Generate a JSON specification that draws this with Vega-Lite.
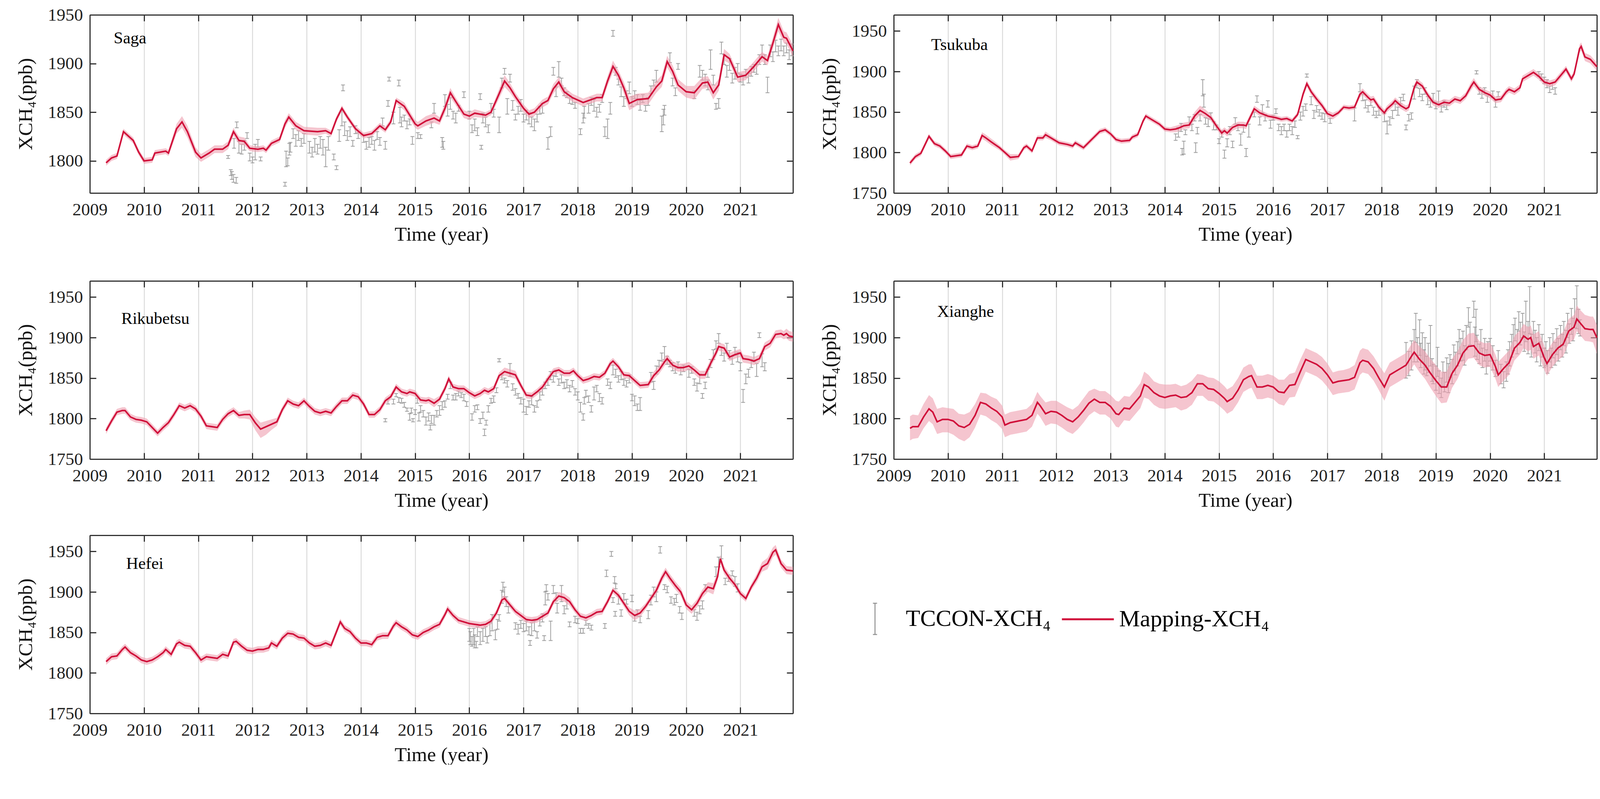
{
"$schema": "https://vega.github.io/schema/vega-lite/v6.json",
"background": "white",
"padding": {"left": 40, "top": 16, "right": 5, "bottom": 0},
"config": {
  "font": "Liberation Serif",
  "view": {"stroke": null},
  "axis": {"labelFont": "Liberation Serif", "labelFontSize": 45, "labelColor": "#222", "titleFont": "Liberation Serif", "titleFontSize": 51, "titleFontWeight": "normal", "titleColor": "#111", "domainColor": "#333", "domainWidth": 3, "tickColor": "#333", "tickWidth": 3, "labelOverlap": false, "labelFlush": false}
},
"datasets": {
"sL": [{"t":2009.3,"v":1798,"a":1795,"b":1801},{"t":2009.4,"v":1803,"a":1800,"b":1806},{"t":2009.5,"v":1805,"a":1802,"b":1808},{"t":2009.62,"v":1830,"a":1827,"b":1833},{"t":2009.8,"v":1821,"a":1818,"b":1824},{"t":2009.9,"v":1809,"a":1806,"b":1812},{"t":2010.0,"v":1800,"a":1797,"b":1803},{"t":2010.15,"v":1801,"a":1798,"b":1804},{"t":2010.2,"v":1808,"a":1805,"b":1811},{"t":2010.4,"v":1810,"a":1807,"b":1813},{"t":2010.45,"v":1808,"a":1805,"b":1811},{"t":2010.6,"v":1833,"a":1828,"b":1838},{"t":2010.7,"v":1840,"a":1834,"b":1846},{"t":2010.8,"v":1830,"a":1824,"b":1836},{"t":2010.95,"v":1809,"a":1804,"b":1814},{"t":2011.05,"v":1803,"a":1799,"b":1807},{"t":2011.2,"v":1808,"a":1804,"b":1812},{"t":2011.3,"v":1812,"a":1808,"b":1816},{"t":2011.45,"v":1812,"a":1808,"b":1816},{"t":2011.55,"v":1816,"a":1812,"b":1820},{"t":2011.65,"v":1830,"a":1826,"b":1834},{"t":2011.75,"v":1821,"a":1817,"b":1825},{"t":2011.85,"v":1820,"a":1816,"b":1824},{"t":2011.95,"v":1813,"a":1810,"b":1816},{"t":2012.1,"v":1812,"a":1809,"b":1815},{"t":2012.2,"v":1813,"a":1810,"b":1816},{"t":2012.25,"v":1811,"a":1808,"b":1814},{"t":2012.35,"v":1818,"a":1815,"b":1821},{"t":2012.5,"v":1822,"a":1819,"b":1825},{"t":2012.6,"v":1838,"a":1834,"b":1842},{"t":2012.67,"v":1845,"a":1841,"b":1849},{"t":2012.8,"v":1836,"a":1832,"b":1840},{"t":2012.95,"v":1831,"a":1827,"b":1835},{"t":2013.2,"v":1830,"a":1826,"b":1834},{"t":2013.35,"v":1831,"a":1828,"b":1834},{"t":2013.45,"v":1828,"a":1825,"b":1831},{"t":2013.55,"v":1843,"a":1840,"b":1846},{"t":2013.65,"v":1854,"a":1851,"b":1857},{"t":2013.75,"v":1845,"a":1842,"b":1848},{"t":2013.9,"v":1833,"a":1830,"b":1836},{"t":2014.05,"v":1826,"a":1823,"b":1829},{"t":2014.2,"v":1828,"a":1825,"b":1831},{"t":2014.35,"v":1836,"a":1833,"b":1839},{"t":2014.45,"v":1832,"a":1829,"b":1835},{"t":2014.55,"v":1840,"a":1837,"b":1843},{"t":2014.65,"v":1862,"a":1859,"b":1865},{"t":2014.8,"v":1856,"a":1852,"b":1860},{"t":2015.0,"v":1838,"a":1834,"b":1842},{"t":2015.05,"v":1836,"a":1832,"b":1840},{"t":2015.2,"v":1841,"a":1836,"b":1846},{"t":2015.35,"v":1844,"a":1839,"b":1849},{"t":2015.45,"v":1841,"a":1837,"b":1845},{"t":2015.55,"v":1854,"a":1849,"b":1859},{"t":2015.65,"v":1870,"a":1865,"b":1875},{"t":2015.75,"v":1861,"a":1857,"b":1865},{"t":2015.9,"v":1848,"a":1844,"b":1852},{"t":2016.0,"v":1846,"a":1842,"b":1850},{"t":2016.1,"v":1849,"a":1845,"b":1853},{"t":2016.3,"v":1847,"a":1844,"b":1850},{"t":2016.4,"v":1850,"a":1847,"b":1853},{"t":2016.55,"v":1869,"a":1864,"b":1874},{"t":2016.65,"v":1882,"a":1876,"b":1888},{"t":2016.75,"v":1875,"a":1870,"b":1880},{"t":2016.85,"v":1866,"a":1862,"b":1870},{"t":2017.0,"v":1854,"a":1850,"b":1858},{"t":2017.1,"v":1848,"a":1844,"b":1852},{"t":2017.2,"v":1850,"a":1846,"b":1854},{"t":2017.35,"v":1859,"a":1855,"b":1863},{"t":2017.45,"v":1862,"a":1858,"b":1866},{"t":2017.55,"v":1874,"a":1869,"b":1879},{"t":2017.65,"v":1881,"a":1876,"b":1886},{"t":2017.75,"v":1871,"a":1866,"b":1876},{"t":2017.9,"v":1865,"a":1861,"b":1869},{"t":2018.1,"v":1860,"a":1856,"b":1864},{"t":2018.25,"v":1863,"a":1859,"b":1867},{"t":2018.35,"v":1865,"a":1861,"b":1869},{"t":2018.45,"v":1865,"a":1861,"b":1869},{"t":2018.55,"v":1882,"a":1877,"b":1887},{"t":2018.65,"v":1897,"a":1891,"b":1903},{"t":2018.75,"v":1888,"a":1883,"b":1893},{"t":2018.85,"v":1875,"a":1869,"b":1881},{"t":2018.95,"v":1859,"a":1852,"b":1866},{"t":2019.1,"v":1863,"a":1857,"b":1869},{"t":2019.3,"v":1864,"a":1858,"b":1870},{"t":2019.45,"v":1876,"a":1870,"b":1882},{"t":2019.55,"v":1882,"a":1876,"b":1888},{"t":2019.65,"v":1902,"a":1896,"b":1908},{"t":2019.75,"v":1892,"a":1886,"b":1898},{"t":2019.85,"v":1878,"a":1872,"b":1884},{"t":2020.0,"v":1871,"a":1865,"b":1877},{"t":2020.15,"v":1870,"a":1863,"b":1877},{"t":2020.3,"v":1880,"a":1874,"b":1886},{"t":2020.4,"v":1881,"a":1875,"b":1887},{"t":2020.5,"v":1870,"a":1863,"b":1877},{"t":2020.6,"v":1878,"a":1872,"b":1884},{"t":2020.7,"v":1909,"a":1903,"b":1915},{"t":2020.8,"v":1905,"a":1900,"b":1910},{"t":2020.95,"v":1886,"a":1881,"b":1891},{"t":2021.1,"v":1888,"a":1883,"b":1893},{"t":2021.25,"v":1897,"a":1892,"b":1902},{"t":2021.4,"v":1907,"a":1902,"b":1912},{"t":2021.5,"v":1903,"a":1898,"b":1908},{"t":2021.6,"v":1921,"a":1915,"b":1927},{"t":2021.7,"v":1940,"a":1933,"b":1947},{"t":2021.8,"v":1927,"a":1921,"b":1933},{"t":2021.85,"v":1926,"a":1920,"b":1932},{"t":2021.97,"v":1913,"a":1907,"b":1919}],
"sT": [{"t":2011.55,"a":1802.5,"b":1805.5},{"t":2011.6,"a":1785,"b":1791},{"t":2011.62,"a":1781,"b":1789},{"t":2011.65,"a":1778,"b":1786},{"t":2011.7,"a":1777,"b":1783},{"t":2011.66,"a":1813,"b":1823},{"t":2011.71,"a":1834,"b":1840},{"t":2011.75,"a":1808,"b":1820},{"t":2011.8,"a":1807,"b":1817},{"t":2011.85,"a":1811,"b":1821},{"t":2011.9,"a":1823,"b":1829},{"t":2011.95,"a":1800,"b":1808},{"t":2012.0,"a":1798,"b":1804},{"t":2012.05,"a":1801,"b":1817},{"t":2012.1,"a":1814,"b":1822},{"t":2012.15,"a":1800,"b":1804},{"t":2012.6,"a":1774,"b":1778},{"t":2012.62,"a":1794,"b":1810},{"t":2012.65,"a":1795,"b":1803},{"t":2012.68,"a":1806,"b":1818},{"t":2012.7,"a":1809,"b":1819},{"t":2012.75,"a":1823,"b":1833},{"t":2012.8,"a":1815,"b":1827},{"t":2012.85,"a":1821,"b":1831},{"t":2012.9,"a":1815,"b":1823},{"t":2012.95,"a":1818,"b":1828},{"t":2013.05,"a":1808,"b":1820},{"t":2013.1,"a":1804,"b":1814},{"t":2013.15,"a":1809,"b":1823},{"t":2013.2,"a":1807,"b":1817},{"t":2013.25,"a":1813,"b":1825},{"t":2013.3,"a":1806,"b":1822},{"t":2013.35,"a":1794,"b":1814},{"t":2013.4,"a":1811,"b":1825},{"t":2013.5,"a":1801,"b":1807},{"t":2013.55,"a":1791,"b":1795},{"t":2013.6,"a":1820,"b":1832},{"t":2013.65,"a":1836,"b":1852},{"t":2013.67,"a":1872,"b":1878},{"t":2013.7,"a":1826,"b":1840},{"t":2013.75,"a":1821,"b":1831},{"t":2013.8,"a":1825,"b":1835},{"t":2013.85,"a":1815,"b":1821},{"t":2013.9,"a":1828,"b":1836},{"t":2013.95,"a":1823,"b":1829},{"t":2014.05,"a":1819,"b":1827},{"t":2014.1,"a":1812,"b":1820},{"t":2014.15,"a":1814,"b":1824},{"t":2014.2,"a":1817,"b":1825},{"t":2014.25,"a":1811,"b":1821},{"t":2014.3,"a":1822,"b":1830},{"t":2014.35,"a":1816,"b":1824},{"t":2014.4,"a":1836,"b":1844},{"t":2014.45,"a":1812,"b":1820},{"t":2014.5,"a":1856,"b":1862},{"t":2014.52,"a":1882,"b":1886},{"t":2014.6,"a":1838,"b":1850},{"t":2014.7,"a":1877,"b":1883},{"t":2014.72,"a":1839,"b":1855},{"t":2014.75,"a":1835,"b":1845},{"t":2014.8,"a":1841,"b":1847},{"t":2014.85,"a":1833,"b":1841},{"t":2014.9,"a":1837,"b":1843},{"t":2014.95,"a":1817,"b":1825},{"t":2015.05,"a":1823,"b":1829},{"t":2015.1,"a":1823,"b":1827},{"t":2015.3,"a":1834,"b":1840},{"t":2015.35,"a":1849,"b":1859},{"t":2015.5,"a":1814,"b":1824},{"t":2015.52,"a":1812,"b":1820},{"t":2015.55,"a":1856,"b":1868},{"t":2015.6,"a":1846,"b":1858},{"t":2015.65,"a":1853,"b":1865},{"t":2015.7,"a":1843,"b":1851},{"t":2015.75,"a":1839,"b":1849},{"t":2015.8,"a":1851,"b":1857},{"t":2015.9,"a":1865,"b":1871},{"t":2016.0,"a":1843,"b":1851},{"t":2016.05,"a":1829,"b":1837},{"t":2016.1,"a":1831,"b":1843},{"t":2016.15,"a":1826,"b":1834},{"t":2016.2,"a":1863,"b":1869},{"t":2016.22,"a":1812,"b":1816},{"t":2016.25,"a":1839,"b":1849},{"t":2016.3,"a":1835,"b":1845},{"t":2016.35,"a":1829,"b":1837},{"t":2016.4,"a":1849,"b":1859},{"t":2016.45,"a":1845,"b":1853},{"t":2016.55,"a":1829,"b":1845},{"t":2016.6,"a":1875,"b":1885},{"t":2016.65,"a":1889,"b":1895},{"t":2016.7,"a":1848,"b":1864},{"t":2016.75,"a":1881,"b":1889},{"t":2016.8,"a":1852,"b":1862},{"t":2016.85,"a":1842,"b":1848},{"t":2016.9,"a":1848,"b":1856},{"t":2016.95,"a":1851,"b":1863},{"t":2017.0,"a":1840,"b":1848},{"t":2017.05,"a":1842,"b":1852},{"t":2017.1,"a":1838,"b":1850},{"t":2017.15,"a":1835,"b":1845},{"t":2017.2,"a":1831,"b":1843},{"t":2017.25,"a":1840,"b":1848},{"t":2017.3,"a":1848,"b":1856},{"t":2017.35,"a":1849,"b":1859},{"t":2017.45,"a":1812,"b":1824},{"t":2017.5,"a":1825,"b":1835},{"t":2017.55,"a":1888,"b":1896},{"t":2017.6,"a":1866,"b":1876},{"t":2017.65,"a":1886,"b":1902},{"t":2017.7,"a":1877,"b":1885},{"t":2017.75,"a":1867,"b":1875},{"t":2017.8,"a":1865,"b":1871},{"t":2017.85,"a":1859,"b":1867},{"t":2017.9,"a":1858,"b":1864},{"t":2017.95,"a":1854,"b":1860},{"t":2018.05,"a":1827,"b":1833},{"t":2018.1,"a":1839,"b":1849},{"t":2018.12,"a":1844,"b":1856},{"t":2018.2,"a":1849,"b":1859},{"t":2018.25,"a":1857,"b":1865},{"t":2018.3,"a":1851,"b":1863},{"t":2018.35,"a":1845,"b":1855},{"t":2018.4,"a":1850,"b":1858},{"t":2018.45,"a":1860,"b":1868},{"t":2018.5,"a":1825,"b":1835},{"t":2018.55,"a":1823,"b":1843},{"t":2018.6,"a":1848,"b":1860},{"t":2018.65,"a":1928,"b":1934},{"t":2018.7,"a":1888,"b":1896},{"t":2018.75,"a":1878,"b":1884},{"t":2018.8,"a":1866,"b":1876},{"t":2018.85,"a":1856,"b":1866},{"t":2018.9,"a":1864,"b":1872},{"t":2018.95,"a":1869,"b":1881},{"t":2019.0,"a":1856,"b":1866},{"t":2019.05,"a":1864,"b":1872},{"t":2019.1,"a":1858,"b":1868},{"t":2019.15,"a":1852,"b":1862},{"t":2019.2,"a":1860,"b":1868},{"t":2019.25,"a":1851,"b":1857},{"t":2019.3,"a":1857,"b":1865},{"t":2019.35,"a":1869,"b":1877},{"t":2019.4,"a":1877,"b":1883},{"t":2019.45,"a":1881,"b":1893},{"t":2019.55,"a":1830,"b":1846},{"t":2019.58,"a":1837,"b":1853},{"t":2019.6,"a":1847,"b":1857},{"t":2019.7,"a":1901,"b":1911},{"t":2019.75,"a":1877,"b":1885},{"t":2019.8,"a":1867,"b":1875},{"t":2019.85,"a":1894,"b":1900},{"t":2020.15,"a":1864,"b":1872},{"t":2020.25,"a":1886,"b":1898},{"t":2020.3,"a":1883,"b":1893},{"t":2020.35,"a":1877,"b":1889},{"t":2020.4,"a":1873,"b":1883},{"t":2020.45,"a":1894,"b":1914},{"t":2020.5,"a":1878,"b":1888},{"t":2020.55,"a":1853,"b":1859},{"t":2020.6,"a":1854,"b":1864},{"t":2020.65,"a":1910,"b":1922},{"t":2020.7,"a":1899,"b":1909},{"t":2020.75,"a":1886,"b":1898},{"t":2020.8,"a":1893,"b":1905},{"t":2020.85,"a":1880,"b":1890},{"t":2020.9,"a":1884,"b":1896},{"t":2020.95,"a":1890,"b":1900},{"t":2021.0,"a":1881,"b":1889},{"t":2021.05,"a":1878,"b":1888},{"t":2021.1,"a":1886,"b":1894},{"t":2021.15,"a":1880,"b":1890},{"t":2021.2,"a":1887,"b":1897},{"t":2021.25,"a":1891,"b":1899},{"t":2021.3,"a":1889,"b":1899},{"t":2021.35,"a":1899,"b":1909},{"t":2021.4,"a":1907,"b":1919},{"t":2021.45,"a":1899,"b":1909},{"t":2021.5,"a":1870,"b":1886},{"t":2021.55,"a":1907,"b":1919},{"t":2021.6,"a":1902,"b":1912},{"t":2021.65,"a":1912,"b":1924},{"t":2021.7,"a":1908,"b":1918},{"t":2021.75,"a":1913,"b":1925},{"t":2021.8,"a":1908,"b":1918},{"t":2021.85,"a":1911,"b":1921},{"t":2021.9,"a":1904,"b":1914},{"t":2021.95,"a":1908,"b":1920}],
"tL": [{"t":2009.3,"v":1787,"a":1784,"b":1790},{"t":2009.4,"v":1795,"a":1792,"b":1798},{"t":2009.5,"v":1799,"a":1796,"b":1802},{"t":2009.6,"v":1813,"a":1810,"b":1816},{"t":2009.65,"v":1820,"a":1817,"b":1823},{"t":2009.75,"v":1811,"a":1808,"b":1814},{"t":2009.85,"v":1808,"a":1805,"b":1811},{"t":2009.95,"v":1802,"a":1799,"b":1805},{"t":2010.05,"v":1795,"a":1792,"b":1798},{"t":2010.15,"v":1796,"a":1793,"b":1799},{"t":2010.25,"v":1797,"a":1794,"b":1800},{"t":2010.35,"v":1808,"a":1805,"b":1811},{"t":2010.45,"v":1806,"a":1803,"b":1809},{"t":2010.55,"v":1808,"a":1805,"b":1811},{"t":2010.63,"v":1821,"a":1817,"b":1825},{"t":2010.7,"v":1818,"a":1814,"b":1822},{"t":2010.8,"v":1813,"a":1809,"b":1817},{"t":2010.95,"v":1806,"a":1803,"b":1809},{"t":2011.05,"v":1800,"a":1797,"b":1803},{"t":2011.15,"v":1794,"a":1790,"b":1798},{"t":2011.3,"v":1795,"a":1792,"b":1798},{"t":2011.4,"v":1806,"a":1803,"b":1809},{"t":2011.45,"v":1808,"a":1805,"b":1811},{"t":2011.55,"v":1802,"a":1799,"b":1805},{"t":2011.65,"v":1818,"a":1815,"b":1821},{"t":2011.75,"v":1818,"a":1815,"b":1821},{"t":2011.8,"v":1822,"a":1818,"b":1826},{"t":2011.9,"v":1818,"a":1815,"b":1821},{"t":2012.05,"v":1812,"a":1809,"b":1815},{"t":2012.2,"v":1810,"a":1807,"b":1813},{"t":2012.3,"v":1808,"a":1805,"b":1811},{"t":2012.35,"v":1812,"a":1809,"b":1815},{"t":2012.45,"v":1808,"a":1805,"b":1811},{"t":2012.5,"v":1806,"a":1803,"b":1809},{"t":2012.65,"v":1816,"a":1813,"b":1819},{"t":2012.8,"v":1826,"a":1823,"b":1829},{"t":2012.9,"v":1828,"a":1825,"b":1831},{"t":2013.0,"v":1823,"a":1820,"b":1826},{"t":2013.1,"v":1816,"a":1813,"b":1819},{"t":2013.2,"v":1814,"a":1811,"b":1817},{"t":2013.35,"v":1815,"a":1812,"b":1818},{"t":2013.4,"v":1819,"a":1816,"b":1822},{"t":2013.5,"v":1822,"a":1819,"b":1825},{"t":2013.6,"v":1839,"a":1836,"b":1842},{"t":2013.65,"v":1845,"a":1842,"b":1848},{"t":2013.75,"v":1841,"a":1838,"b":1844},{"t":2013.9,"v":1835,"a":1832,"b":1838},{"t":2014.0,"v":1829,"a":1826,"b":1832},{"t":2014.1,"v":1828,"a":1825,"b":1831},{"t":2014.2,"v":1829,"a":1825,"b":1833},{"t":2014.25,"v":1830,"a":1826,"b":1834},{"t":2014.35,"v":1833,"a":1829,"b":1837},{"t":2014.45,"v":1834,"a":1830,"b":1838},{"t":2014.55,"v":1845,"a":1840,"b":1850},{"t":2014.65,"v":1852,"a":1846,"b":1858},{"t":2014.75,"v":1848,"a":1843,"b":1853},{"t":2014.85,"v":1843,"a":1839,"b":1847},{"t":2014.95,"v":1833,"a":1829,"b":1837},{"t":2015.05,"v":1824,"a":1820,"b":1828},{"t":2015.1,"v":1827,"a":1823,"b":1831},{"t":2015.15,"v":1824,"a":1820,"b":1828},{"t":2015.25,"v":1831,"a":1827,"b":1835},{"t":2015.35,"v":1834,"a":1830,"b":1838},{"t":2015.45,"v":1834,"a":1830,"b":1838},{"t":2015.5,"v":1833,"a":1829,"b":1837},{"t":2015.6,"v":1847,"a":1843,"b":1851},{"t":2015.65,"v":1854,"a":1850,"b":1858},{"t":2015.75,"v":1849,"a":1845,"b":1853},{"t":2015.9,"v":1845,"a":1842,"b":1848},{"t":2016.05,"v":1843,"a":1840,"b":1846},{"t":2016.15,"v":1841,"a":1838,"b":1844},{"t":2016.25,"v":1842,"a":1839,"b":1845},{"t":2016.35,"v":1839,"a":1836,"b":1842},{"t":2016.45,"v":1847,"a":1844,"b":1850},{"t":2016.55,"v":1872,"a":1868,"b":1876},{"t":2016.62,"v":1885,"a":1881,"b":1889},{"t":2016.7,"v":1875,"a":1871,"b":1879},{"t":2016.8,"v":1866,"a":1862,"b":1870},{"t":2016.9,"v":1858,"a":1854,"b":1862},{"t":2017.0,"v":1848,"a":1844,"b":1852},{"t":2017.1,"v":1845,"a":1841,"b":1849},{"t":2017.2,"v":1849,"a":1846,"b":1852},{"t":2017.3,"v":1856,"a":1853,"b":1859},{"t":2017.4,"v":1855,"a":1852,"b":1858},{"t":2017.5,"v":1856,"a":1853,"b":1859},{"t":2017.6,"v":1872,"a":1868,"b":1876},{"t":2017.65,"v":1875,"a":1871,"b":1879},{"t":2017.75,"v":1868,"a":1864,"b":1872},{"t":2017.8,"v":1865,"a":1861,"b":1869},{"t":2017.85,"v":1866,"a":1862,"b":1870},{"t":2017.95,"v":1856,"a":1852,"b":1860},{"t":2018.05,"v":1849,"a":1845,"b":1853},{"t":2018.1,"v":1854,"a":1850,"b":1858},{"t":2018.2,"v":1860,"a":1856,"b":1864},{"t":2018.25,"v":1864,"a":1860,"b":1868},{"t":2018.35,"v":1858,"a":1854,"b":1862},{"t":2018.45,"v":1854,"a":1850,"b":1858},{"t":2018.5,"v":1856,"a":1852,"b":1860},{"t":2018.6,"v":1880,"a":1876,"b":1884},{"t":2018.65,"v":1887,"a":1883,"b":1891},{"t":2018.75,"v":1882,"a":1878,"b":1886},{"t":2018.85,"v":1871,"a":1867,"b":1875},{"t":2018.95,"v":1862,"a":1858,"b":1866},{"t":2019.05,"v":1859,"a":1855,"b":1863},{"t":2019.15,"v":1862,"a":1858,"b":1866},{"t":2019.25,"v":1861,"a":1857,"b":1865},{"t":2019.35,"v":1866,"a":1862,"b":1870},{"t":2019.45,"v":1864,"a":1860,"b":1868},{"t":2019.55,"v":1870,"a":1866,"b":1874},{"t":2019.65,"v":1882,"a":1877,"b":1887},{"t":2019.7,"v":1887,"a":1882,"b":1892},{"t":2019.8,"v":1878,"a":1874,"b":1882},{"t":2019.9,"v":1874,"a":1870,"b":1878},{"t":2020.0,"v":1871,"a":1867,"b":1875},{"t":2020.1,"v":1865,"a":1861,"b":1869},{"t":2020.2,"v":1866,"a":1862,"b":1870},{"t":2020.3,"v":1875,"a":1871,"b":1879},{"t":2020.35,"v":1878,"a":1874,"b":1882},{"t":2020.45,"v":1875,"a":1871,"b":1879},{"t":2020.55,"v":1880,"a":1876,"b":1884},{"t":2020.6,"v":1891,"a":1887,"b":1895},{"t":2020.7,"v":1895,"a":1891,"b":1899},{"t":2020.8,"v":1899,"a":1895,"b":1903},{"t":2020.9,"v":1894,"a":1890,"b":1898},{"t":2021.0,"v":1887,"a":1883,"b":1891},{"t":2021.1,"v":1885,"a":1881,"b":1889},{"t":2021.2,"v":1887,"a":1883,"b":1891},{"t":2021.3,"v":1895,"a":1891,"b":1899},{"t":2021.4,"v":1903,"a":1899,"b":1907},{"t":2021.5,"v":1891,"a":1887,"b":1895},{"t":2021.55,"v":1897,"a":1893,"b":1901},{"t":2021.65,"v":1928,"a":1923,"b":1933},{"t":2021.68,"v":1931,"a":1926,"b":1936},{"t":2021.75,"v":1918,"a":1913,"b":1923},{"t":2021.85,"v":1915,"a":1910,"b":1920},{"t":2021.97,"v":1906,"a":1901,"b":1911}],
"tT": [{"t":2014.2,"a":1815,"b":1823},{"t":2014.25,"a":1819,"b":1831},{"t":2014.3,"a":1826,"b":1836},{"t":2014.32,"a":1797,"b":1805},{"t":2014.35,"a":1798,"b":1814},{"t":2014.38,"a":1822,"b":1828},{"t":2014.45,"a":1834,"b":1844},{"t":2014.5,"a":1827,"b":1835},{"t":2014.55,"a":1839,"b":1847},{"t":2014.57,"a":1800,"b":1812},{"t":2014.6,"a":1823,"b":1831},{"t":2014.65,"a":1839,"b":1847},{"t":2014.7,"a":1870,"b":1890},{"t":2014.72,"a":1856,"b":1872},{"t":2014.75,"a":1835,"b":1843},{"t":2014.8,"a":1832,"b":1842},{"t":2014.85,"a":1841,"b":1849},{"t":2014.9,"a":1828,"b":1838},{"t":2014.95,"a":1828,"b":1834},{"t":2015.0,"a":1811,"b":1817},{"t":2015.05,"a":1819,"b":1827},{"t":2015.1,"a":1793,"b":1803},{"t":2015.15,"a":1807,"b":1817},{"t":2015.2,"a":1822,"b":1832},{"t":2015.25,"a":1806,"b":1814},{"t":2015.3,"a":1835,"b":1843},{"t":2015.35,"a":1827,"b":1835},{"t":2015.4,"a":1809,"b":1823},{"t":2015.45,"a":1825,"b":1833},{"t":2015.5,"a":1795,"b":1805},{"t":2015.55,"a":1819,"b":1835},{"t":2015.65,"a":1844,"b":1850},{"t":2015.7,"a":1862,"b":1870},{"t":2015.75,"a":1834,"b":1844},{"t":2015.8,"a":1849,"b":1859},{"t":2015.85,"a":1839,"b":1847},{"t":2015.9,"a":1856,"b":1864},{"t":2015.95,"a":1830,"b":1840},{"t":2016.0,"a":1840,"b":1846},{"t":2016.05,"a":1848,"b":1854},{"t":2016.1,"a":1827,"b":1835},{"t":2016.15,"a":1822,"b":1832},{"t":2016.2,"a":1827,"b":1835},{"t":2016.25,"a":1819,"b":1827},{"t":2016.3,"a":1827,"b":1835},{"t":2016.35,"a":1822,"b":1832},{"t":2016.4,"a":1831,"b":1839},{"t":2016.45,"a":1817,"b":1821},{"t":2016.5,"a":1840,"b":1850},{"t":2016.55,"a":1845,"b":1857},{"t":2016.6,"a":1852,"b":1860},{"t":2016.62,"a":1893,"b":1897},{"t":2016.7,"a":1859,"b":1869},{"t":2016.75,"a":1842,"b":1852},{"t":2016.8,"a":1850,"b":1858},{"t":2016.85,"a":1845,"b":1853},{"t":2016.9,"a":1841,"b":1849},{"t":2016.95,"a":1838,"b":1848},{"t":2017.05,"a":1836,"b":1842},{"t":2017.5,"a":1839,"b":1855},{"t":2017.6,"a":1875,"b":1885},{"t":2017.65,"a":1864,"b":1872},{"t":2017.7,"a":1855,"b":1865},{"t":2017.75,"a":1850,"b":1858},{"t":2017.8,"a":1858,"b":1866},{"t":2017.85,"a":1846,"b":1856},{"t":2017.9,"a":1843,"b":1851},{"t":2017.95,"a":1846,"b":1856},{"t":2018.05,"a":1838,"b":1848},{"t":2018.1,"a":1823,"b":1839},{"t":2018.15,"a":1834,"b":1844},{"t":2018.2,"a":1842,"b":1852},{"t":2018.25,"a":1852,"b":1860},{"t":2018.3,"a":1846,"b":1856},{"t":2018.35,"a":1860,"b":1868},{"t":2018.4,"a":1864,"b":1872},{"t":2018.45,"a":1828,"b":1834},{"t":2018.5,"a":1839,"b":1847},{"t":2018.55,"a":1841,"b":1849},{"t":2018.6,"a":1866,"b":1882},{"t":2018.65,"a":1880,"b":1890},{"t":2018.7,"a":1869,"b":1879},{"t":2018.75,"a":1864,"b":1872},{"t":2018.8,"a":1872,"b":1880},{"t":2018.85,"a":1859,"b":1869},{"t":2018.9,"a":1856,"b":1864},{"t":2018.95,"a":1863,"b":1873},{"t":2019.0,"a":1854,"b":1862},{"t":2019.05,"a":1860,"b":1876},{"t":2019.1,"a":1850,"b":1858},{"t":2019.15,"a":1856,"b":1864},{"t":2019.2,"a":1853,"b":1859},{"t":2019.75,"a":1897,"b":1901},{"t":2019.8,"a":1872,"b":1880},{"t":2019.85,"a":1867,"b":1877},{"t":2019.9,"a":1872,"b":1880},{"t":2019.95,"a":1862,"b":1870},{"t":2020.05,"a":1868,"b":1876},{"t":2020.1,"a":1856,"b":1864},{"t":2020.15,"a":1869,"b":1875},{"t":2020.9,"a":1894,"b":1900},{"t":2020.95,"a":1889,"b":1897},{"t":2021.0,"a":1885,"b":1893},{"t":2021.05,"a":1880,"b":1890},{"t":2021.1,"a":1874,"b":1882},{"t":2021.15,"a":1878,"b":1886},{"t":2021.2,"a":1872,"b":1880}],
"rL": [{"t":2009.3,"v":1785,"a":1781,"b":1789},{"t":2009.4,"v":1797,"a":1793,"b":1801},{"t":2009.5,"v":1808,"a":1804,"b":1812},{"t":2009.6,"v":1810,"a":1806,"b":1814},{"t":2009.65,"v":1810,"a":1806,"b":1814},{"t":2009.75,"v":1802,"a":1798,"b":1806},{"t":2009.85,"v":1799,"a":1795,"b":1803},{"t":2009.95,"v":1798,"a":1794,"b":1802},{"t":2010.05,"v":1796,"a":1792,"b":1800},{"t":2010.15,"v":1789,"a":1785,"b":1793},{"t":2010.25,"v":1782,"a":1778,"b":1786},{"t":2010.35,"v":1789,"a":1785,"b":1793},{"t":2010.45,"v":1795,"a":1791,"b":1799},{"t":2010.55,"v":1805,"a":1801,"b":1809},{"t":2010.65,"v":1816,"a":1812,"b":1820},{"t":2010.75,"v":1813,"a":1809,"b":1817},{"t":2010.85,"v":1816,"a":1812,"b":1820},{"t":2010.95,"v":1812,"a":1808,"b":1816},{"t":2011.05,"v":1803,"a":1799,"b":1807},{"t":2011.15,"v":1791,"a":1787,"b":1795},{"t":2011.25,"v":1790,"a":1786,"b":1794},{"t":2011.35,"v":1789,"a":1785,"b":1793},{"t":2011.45,"v":1799,"a":1795,"b":1803},{"t":2011.55,"v":1806,"a":1802,"b":1810},{"t":2011.65,"v":1810,"a":1806,"b":1814},{"t":2011.75,"v":1804,"a":1800,"b":1808},{"t":2011.85,"v":1805,"a":1800,"b":1810},{"t":2011.95,"v":1805,"a":1799,"b":1811},{"t":2012.05,"v":1795,"a":1786,"b":1802},{"t":2012.15,"v":1787,"a":1776,"b":1795},{"t":2012.25,"v":1790,"a":1780,"b":1797},{"t":2012.35,"v":1793,"a":1786,"b":1799},{"t":2012.45,"v":1796,"a":1791,"b":1801},{"t":2012.55,"v":1811,"a":1807,"b":1815},{"t":2012.65,"v":1822,"a":1818,"b":1826},{"t":2012.75,"v":1818,"a":1814,"b":1822},{"t":2012.85,"v":1816,"a":1812,"b":1820},{"t":2012.95,"v":1822,"a":1818,"b":1826},{"t":2013.05,"v":1815,"a":1811,"b":1819},{"t":2013.15,"v":1809,"a":1805,"b":1813},{"t":2013.25,"v":1807,"a":1803,"b":1811},{"t":2013.35,"v":1809,"a":1805,"b":1813},{"t":2013.45,"v":1807,"a":1803,"b":1811},{"t":2013.55,"v":1815,"a":1811,"b":1819},{"t":2013.65,"v":1822,"a":1818,"b":1826},{"t":2013.75,"v":1822,"a":1818,"b":1826},{"t":2013.85,"v":1829,"a":1825,"b":1833},{"t":2013.95,"v":1827,"a":1823,"b":1831},{"t":2014.05,"v":1818,"a":1814,"b":1822},{"t":2014.15,"v":1805,"a":1801,"b":1809},{"t":2014.25,"v":1805,"a":1801,"b":1809},{"t":2014.35,"v":1811,"a":1807,"b":1815},{"t":2014.45,"v":1822,"a":1818,"b":1826},{"t":2014.55,"v":1827,"a":1823,"b":1831},{"t":2014.6,"v":1833,"a":1829,"b":1837},{"t":2014.65,"v":1839,"a":1835,"b":1843},{"t":2014.75,"v":1833,"a":1829,"b":1837},{"t":2014.85,"v":1831,"a":1827,"b":1835},{"t":2014.9,"v":1833,"a":1829,"b":1837},{"t":2015.0,"v":1831,"a":1827,"b":1835},{"t":2015.1,"v":1823,"a":1819,"b":1827},{"t":2015.2,"v":1822,"a":1818,"b":1826},{"t":2015.25,"v":1823,"a":1819,"b":1827},{"t":2015.35,"v":1819,"a":1814,"b":1824},{"t":2015.45,"v":1824,"a":1820,"b":1828},{"t":2015.55,"v":1837,"a":1833,"b":1841},{"t":2015.62,"v":1849,"a":1845,"b":1853},{"t":2015.7,"v":1839,"a":1835,"b":1843},{"t":2015.8,"v":1837,"a":1833,"b":1841},{"t":2015.9,"v":1837,"a":1833,"b":1841},{"t":2016.0,"v":1832,"a":1828,"b":1836},{"t":2016.1,"v":1828,"a":1824,"b":1832},{"t":2016.2,"v":1831,"a":1827,"b":1835},{"t":2016.28,"v":1835,"a":1831,"b":1839},{"t":2016.35,"v":1833,"a":1829,"b":1837},{"t":2016.45,"v":1837,"a":1833,"b":1841},{"t":2016.55,"v":1853,"a":1849,"b":1857},{"t":2016.65,"v":1858,"a":1853,"b":1863},{"t":2016.75,"v":1856,"a":1851,"b":1861},{"t":2016.85,"v":1854,"a":1849,"b":1859},{"t":2016.95,"v":1841,"a":1837,"b":1845},{"t":2017.05,"v":1829,"a":1825,"b":1833},{"t":2017.15,"v":1828,"a":1824,"b":1832},{"t":2017.25,"v":1833,"a":1829,"b":1837},{"t":2017.35,"v":1839,"a":1835,"b":1843},{"t":2017.45,"v":1849,"a":1845,"b":1853},{"t":2017.55,"v":1858,"a":1854,"b":1862},{"t":2017.65,"v":1860,"a":1856,"b":1864},{"t":2017.75,"v":1856,"a":1852,"b":1860},{"t":2017.85,"v":1856,"a":1852,"b":1860},{"t":2017.92,"v":1859,"a":1855,"b":1863},{"t":2018.0,"v":1853,"a":1849,"b":1857},{"t":2018.1,"v":1847,"a":1843,"b":1851},{"t":2018.2,"v":1849,"a":1845,"b":1853},{"t":2018.3,"v":1852,"a":1848,"b":1856},{"t":2018.4,"v":1851,"a":1847,"b":1855},{"t":2018.5,"v":1856,"a":1852,"b":1860},{"t":2018.6,"v":1868,"a":1864,"b":1872},{"t":2018.65,"v":1871,"a":1867,"b":1875},{"t":2018.75,"v":1864,"a":1860,"b":1868},{"t":2018.85,"v":1854,"a":1850,"b":1858},{"t":2018.95,"v":1853,"a":1849,"b":1857},{"t":2019.05,"v":1847,"a":1843,"b":1851},{"t":2019.15,"v":1841,"a":1837,"b":1845},{"t":2019.3,"v":1842,"a":1838,"b":1846},{"t":2019.4,"v":1853,"a":1848,"b":1858},{"t":2019.5,"v":1860,"a":1855,"b":1865},{"t":2019.6,"v":1870,"a":1865,"b":1875},{"t":2019.65,"v":1874,"a":1869,"b":1879},{"t":2019.75,"v":1866,"a":1861,"b":1871},{"t":2019.85,"v":1863,"a":1858,"b":1868},{"t":2019.95,"v":1863,"a":1858,"b":1868},{"t":2020.05,"v":1865,"a":1860,"b":1870},{"t":2020.15,"v":1860,"a":1855,"b":1865},{"t":2020.25,"v":1854,"a":1849,"b":1859},{"t":2020.35,"v":1854,"a":1849,"b":1859},{"t":2020.45,"v":1868,"a":1863,"b":1873},{"t":2020.55,"v":1881,"a":1876,"b":1886},{"t":2020.6,"v":1889,"a":1884,"b":1894},{"t":2020.7,"v":1887,"a":1882,"b":1892},{"t":2020.8,"v":1876,"a":1871,"b":1881},{"t":2020.9,"v":1879,"a":1874,"b":1884},{"t":2021.0,"v":1881,"a":1876,"b":1886},{"t":2021.05,"v":1874,"a":1869,"b":1879},{"t":2021.15,"v":1873,"a":1868,"b":1878},{"t":2021.25,"v":1871,"a":1866,"b":1876},{"t":2021.35,"v":1874,"a":1869,"b":1879},{"t":2021.45,"v":1889,"a":1884,"b":1894},{"t":2021.55,"v":1893,"a":1888,"b":1898},{"t":2021.65,"v":1904,"a":1899,"b":1909},{"t":2021.75,"v":1905,"a":1900,"b":1910},{"t":2021.8,"v":1903,"a":1898,"b":1908},{"t":2021.85,"v":1905,"a":1899,"b":1911},{"t":2021.9,"v":1902,"a":1896,"b":1908},{"t":2021.97,"v":1901,"a":1895,"b":1907}],
"rT": [{"t":2014.45,"a":1796,"b":1800},{"t":2014.5,"a":1818,"b":1824},{"t":2014.6,"a":1818,"b":1824},{"t":2014.65,"a":1827,"b":1831},{"t":2014.7,"a":1820,"b":1826},{"t":2014.75,"a":1819,"b":1825},{"t":2014.8,"a":1814,"b":1820},{"t":2014.85,"a":1809,"b":1813},{"t":2014.9,"a":1798,"b":1806},{"t":2014.93,"a":1807,"b":1813},{"t":2014.96,"a":1796,"b":1800},{"t":2015.0,"a":1805,"b":1811},{"t":2015.04,"a":1819,"b":1825},{"t":2015.07,"a":1797,"b":1807},{"t":2015.1,"a":1808,"b":1816},{"t":2015.15,"a":1802,"b":1810},{"t":2015.2,"a":1792,"b":1802},{"t":2015.25,"a":1797,"b":1807},{"t":2015.28,"a":1786,"b":1792},{"t":2015.3,"a":1794,"b":1804},{"t":2015.35,"a":1792,"b":1804},{"t":2015.4,"a":1802,"b":1810},{"t":2015.45,"a":1804,"b":1816},{"t":2015.5,"a":1811,"b":1821},{"t":2015.55,"a":1814,"b":1822},{"t":2015.6,"a":1824,"b":1830},{"t":2015.65,"a":1837,"b":1845},{"t":2015.7,"a":1823,"b":1829},{"t":2015.75,"a":1823,"b":1831},{"t":2015.8,"a":1828,"b":1834},{"t":2015.85,"a":1826,"b":1832},{"t":2015.9,"a":1822,"b":1830},{"t":2015.95,"a":1815,"b":1821},{"t":2016.05,"a":1798,"b":1806},{"t":2016.1,"a":1808,"b":1816},{"t":2016.15,"a":1811,"b":1817},{"t":2016.2,"a":1794,"b":1800},{"t":2016.25,"a":1800,"b":1808},{"t":2016.28,"a":1779,"b":1787},{"t":2016.31,"a":1792,"b":1798},{"t":2016.35,"a":1808,"b":1816},{"t":2016.4,"a":1819,"b":1825},{"t":2016.45,"a":1820,"b":1828},{"t":2016.5,"a":1832,"b":1838},{"t":2016.55,"a":1870,"b":1874},{"t":2016.6,"a":1848,"b":1854},{"t":2016.65,"a":1844,"b":1850},{"t":2016.7,"a":1839,"b":1847},{"t":2016.75,"a":1852,"b":1868},{"t":2016.8,"a":1835,"b":1843},{"t":2016.85,"a":1829,"b":1837},{"t":2016.9,"a":1825,"b":1831},{"t":2016.95,"a":1818,"b":1826},{"t":2017.0,"a":1808,"b":1824},{"t":2017.05,"a":1805,"b":1815},{"t":2017.1,"a":1814,"b":1822},{"t":2017.15,"a":1817,"b":1827},{"t":2017.2,"a":1808,"b":1816},{"t":2017.25,"a":1814,"b":1822},{"t":2017.3,"a":1823,"b":1833},{"t":2017.35,"a":1829,"b":1837},{"t":2017.4,"a":1837,"b":1845},{"t":2017.45,"a":1841,"b":1849},{"t":2017.5,"a":1848,"b":1858},{"t":2017.55,"a":1845,"b":1853},{"t":2017.6,"a":1852,"b":1860},{"t":2017.65,"a":1841,"b":1849},{"t":2017.7,"a":1844,"b":1854},{"t":2017.75,"a":1837,"b":1845},{"t":2017.8,"a":1838,"b":1848},{"t":2017.85,"a":1833,"b":1841},{"t":2017.9,"a":1839,"b":1847},{"t":2017.95,"a":1829,"b":1837},{"t":2018.0,"a":1823,"b":1833},{"t":2018.05,"a":1808,"b":1820},{"t":2018.1,"a":1798,"b":1806},{"t":2018.12,"a":1818,"b":1826},{"t":2018.15,"a":1827,"b":1835},{"t":2018.2,"a":1820,"b":1828},{"t":2018.25,"a":1808,"b":1816},{"t":2018.3,"a":1823,"b":1839},{"t":2018.35,"a":1833,"b":1841},{"t":2018.4,"a":1821,"b":1831},{"t":2018.45,"a":1818,"b":1826},{"t":2018.55,"a":1841,"b":1849},{"t":2018.6,"a":1837,"b":1845},{"t":2018.65,"a":1854,"b":1866},{"t":2018.7,"a":1851,"b":1861},{"t":2018.75,"a":1845,"b":1853},{"t":2018.8,"a":1848,"b":1858},{"t":2018.85,"a":1841,"b":1849},{"t":2018.9,"a":1839,"b":1847},{"t":2018.95,"a":1844,"b":1854},{"t":2019.0,"a":1822,"b":1830},{"t":2019.05,"a":1816,"b":1828},{"t":2019.1,"a":1810,"b":1818},{"t":2019.15,"a":1810,"b":1826},{"t":2019.35,"a":1845,"b":1857},{"t":2019.4,"a":1836,"b":1846},{"t":2019.45,"a":1855,"b":1865},{"t":2019.5,"a":1864,"b":1872},{"t":2019.55,"a":1871,"b":1881},{"t":2019.6,"a":1873,"b":1889},{"t":2019.65,"a":1867,"b":1877},{"t":2019.7,"a":1864,"b":1872},{"t":2019.75,"a":1859,"b":1869},{"t":2019.8,"a":1856,"b":1864},{"t":2019.85,"a":1862,"b":1870},{"t":2019.9,"a":1854,"b":1862},{"t":2019.95,"a":1858,"b":1866},{"t":2020.05,"a":1851,"b":1861},{"t":2020.1,"a":1856,"b":1864},{"t":2020.15,"a":1841,"b":1849},{"t":2020.2,"a":1834,"b":1844},{"t":2020.25,"a":1843,"b":1855},{"t":2020.3,"a":1825,"b":1831},{"t":2020.35,"a":1837,"b":1845},{"t":2020.4,"a":1851,"b":1861},{"t":2020.45,"a":1863,"b":1873},{"t":2020.5,"a":1873,"b":1885},{"t":2020.55,"a":1886,"b":1896},{"t":2020.6,"a":1893,"b":1905},{"t":2020.65,"a":1878,"b":1888},{"t":2020.7,"a":1871,"b":1881},{"t":2020.75,"a":1881,"b":1893},{"t":2020.8,"a":1874,"b":1884},{"t":2020.85,"a":1867,"b":1877},{"t":2020.9,"a":1878,"b":1888},{"t":2020.95,"a":1870,"b":1882},{"t":2021.0,"a":1859,"b":1869},{"t":2021.05,"a":1820,"b":1836},{"t":2021.1,"a":1843,"b":1855},{"t":2021.15,"a":1851,"b":1861},{"t":2021.2,"a":1863,"b":1873},{"t":2021.25,"a":1870,"b":1882},{"t":2021.3,"a":1852,"b":1868},{"t":2021.35,"a":1900,"b":1906},{"t":2021.4,"a":1864,"b":1880},{"t":2021.45,"a":1859,"b":1869}],
"xL": [{"t":2009.3,"v":1788,"a":1773,"b":1803},{"t":2009.35,"v":1790,"a":1775,"b":1805},{"t":2009.45,"v":1790,"a":1776,"b":1804},{"t":2009.55,"v":1802,"a":1788,"b":1818},{"t":2009.65,"v":1812,"a":1797,"b":1829},{"t":2009.72,"v":1808,"a":1793,"b":1825},{"t":2009.8,"v":1796,"a":1781,"b":1812},{"t":2009.9,"v":1799,"a":1783,"b":1814},{"t":2010.0,"v":1799,"a":1783,"b":1813},{"t":2010.1,"v":1797,"a":1780,"b":1812},{"t":2010.2,"v":1791,"a":1775,"b":1806},{"t":2010.3,"v":1789,"a":1772,"b":1805},{"t":2010.4,"v":1793,"a":1777,"b":1808},{"t":2010.5,"v":1804,"a":1789,"b":1818},{"t":2010.6,"v":1820,"a":1805,"b":1832},{"t":2010.7,"v":1818,"a":1803,"b":1831},{"t":2010.8,"v":1813,"a":1798,"b":1827},{"t":2010.9,"v":1809,"a":1794,"b":1824},{"t":2011.0,"v":1802,"a":1787,"b":1816},{"t":2011.05,"v":1792,"a":1777,"b":1805},{"t":2011.15,"v":1795,"a":1780,"b":1808},{"t":2011.3,"v":1797,"a":1782,"b":1810},{"t":2011.45,"v":1799,"a":1784,"b":1812},{"t":2011.55,"v":1804,"a":1790,"b":1818},{"t":2011.65,"v":1820,"a":1806,"b":1833},{"t":2011.7,"v":1816,"a":1802,"b":1828},{"t":2011.8,"v":1806,"a":1791,"b":1820},{"t":2011.9,"v":1809,"a":1794,"b":1822},{"t":2012.0,"v":1808,"a":1793,"b":1822},{"t":2012.1,"v":1804,"a":1789,"b":1818},{"t":2012.2,"v":1799,"a":1784,"b":1814},{"t":2012.3,"v":1796,"a":1781,"b":1811},{"t":2012.4,"v":1802,"a":1787,"b":1816},{"t":2012.5,"v":1810,"a":1795,"b":1825},{"t":2012.6,"v":1819,"a":1804,"b":1834},{"t":2012.7,"v":1824,"a":1809,"b":1837},{"t":2012.8,"v":1820,"a":1805,"b":1834},{"t":2012.9,"v":1820,"a":1805,"b":1834},{"t":2013.0,"v":1815,"a":1800,"b":1829},{"t":2013.1,"v":1806,"a":1790,"b":1822},{"t":2013.15,"v":1805,"a":1789,"b":1821},{"t":2013.25,"v":1813,"a":1798,"b":1828},{"t":2013.35,"v":1812,"a":1797,"b":1827},{"t":2013.45,"v":1820,"a":1805,"b":1835},{"t":2013.55,"v":1828,"a":1813,"b":1844},{"t":2013.62,"v":1842,"a":1826,"b":1858},{"t":2013.7,"v":1839,"a":1824,"b":1854},{"t":2013.8,"v":1832,"a":1817,"b":1846},{"t":2013.9,"v":1828,"a":1813,"b":1843},{"t":2014.0,"v":1826,"a":1812,"b":1842},{"t":2014.1,"v":1828,"a":1813,"b":1842},{"t":2014.2,"v":1829,"a":1814,"b":1843},{"t":2014.3,"v":1826,"a":1810,"b":1840},{"t":2014.4,"v":1827,"a":1812,"b":1842},{"t":2014.5,"v":1832,"a":1817,"b":1847},{"t":2014.6,"v":1843,"a":1828,"b":1855},{"t":2014.7,"v":1843,"a":1828,"b":1854},{"t":2014.8,"v":1837,"a":1822,"b":1851},{"t":2014.9,"v":1836,"a":1821,"b":1850},{"t":2015.0,"v":1831,"a":1816,"b":1846},{"t":2015.1,"v":1825,"a":1810,"b":1840},{"t":2015.15,"v":1821,"a":1806,"b":1836},{"t":2015.25,"v":1825,"a":1810,"b":1840},{"t":2015.35,"v":1835,"a":1820,"b":1850},{"t":2015.45,"v":1848,"a":1833,"b":1863},{"t":2015.55,"v":1852,"a":1837,"b":1867},{"t":2015.6,"v":1853,"a":1838,"b":1867},{"t":2015.7,"v":1839,"a":1824,"b":1853},{"t":2015.8,"v":1839,"a":1824,"b":1853},{"t":2015.9,"v":1841,"a":1826,"b":1855},{"t":2016.0,"v":1839,"a":1824,"b":1853},{"t":2016.1,"v":1833,"a":1818,"b":1848},{"t":2016.2,"v":1832,"a":1816,"b":1848},{"t":2016.3,"v":1841,"a":1826,"b":1855},{"t":2016.4,"v":1842,"a":1827,"b":1857},{"t":2016.5,"v":1858,"a":1843,"b":1873},{"t":2016.6,"v":1873,"a":1858,"b":1887},{"t":2016.7,"v":1870,"a":1855,"b":1884},{"t":2016.8,"v":1867,"a":1852,"b":1881},{"t":2016.9,"v":1862,"a":1847,"b":1876},{"t":2017.0,"v":1854,"a":1839,"b":1868},{"t":2017.1,"v":1844,"a":1829,"b":1857},{"t":2017.2,"v":1846,"a":1831,"b":1859},{"t":2017.3,"v":1847,"a":1832,"b":1860},{"t":2017.4,"v":1848,"a":1833,"b":1862},{"t":2017.5,"v":1851,"a":1836,"b":1866},{"t":2017.6,"v":1869,"a":1854,"b":1884},{"t":2017.65,"v":1872,"a":1857,"b":1887},{"t":2017.75,"v":1870,"a":1855,"b":1885},{"t":2017.85,"v":1862,"a":1847,"b":1877},{"t":2017.95,"v":1850,"a":1835,"b":1866},{"t":2018.05,"v":1839,"a":1822,"b":1856},{"t":2018.15,"v":1854,"a":1839,"b":1869},{"t":2018.25,"v":1858,"a":1843,"b":1873},{"t":2018.35,"v":1862,"a":1847,"b":1877},{"t":2018.45,"v":1866,"a":1851,"b":1881},{"t":2018.55,"v":1877,"a":1862,"b":1892},{"t":2018.6,"v":1882,"a":1867,"b":1897},{"t":2018.7,"v":1873,"a":1857,"b":1889},{"t":2018.8,"v":1866,"a":1849,"b":1883},{"t":2018.9,"v":1856,"a":1838,"b":1874},{"t":2019.0,"v":1847,"a":1828,"b":1866},{"t":2019.1,"v":1839,"a":1819,"b":1858},{"t":2019.2,"v":1839,"a":1820,"b":1858},{"t":2019.3,"v":1856,"a":1838,"b":1874},{"t":2019.4,"v":1866,"a":1849,"b":1883},{"t":2019.5,"v":1881,"a":1865,"b":1897},{"t":2019.6,"v":1889,"a":1874,"b":1905},{"t":2019.7,"v":1890,"a":1875,"b":1906},{"t":2019.8,"v":1881,"a":1866,"b":1896},{"t":2019.9,"v":1878,"a":1863,"b":1893},{"t":2020.0,"v":1879,"a":1864,"b":1894},{"t":2020.1,"v":1864,"a":1849,"b":1879},{"t":2020.15,"v":1854,"a":1839,"b":1870},{"t":2020.25,"v":1862,"a":1847,"b":1877},{"t":2020.35,"v":1869,"a":1854,"b":1884},{"t":2020.45,"v":1887,"a":1872,"b":1902},{"t":2020.55,"v":1894,"a":1879,"b":1909},{"t":2020.62,"v":1902,"a":1887,"b":1917},{"t":2020.7,"v":1898,"a":1883,"b":1913},{"t":2020.75,"v":1900,"a":1885,"b":1915},{"t":2020.8,"v":1889,"a":1874,"b":1904},{"t":2020.9,"v":1893,"a":1878,"b":1908},{"t":2021.0,"v":1875,"a":1860,"b":1890},{"t":2021.05,"v":1868,"a":1853,"b":1883},{"t":2021.15,"v":1879,"a":1864,"b":1894},{"t":2021.25,"v":1887,"a":1872,"b":1902},{"t":2021.35,"v":1892,"a":1877,"b":1907},{"t":2021.45,"v":1908,"a":1893,"b":1923},{"t":2021.55,"v":1913,"a":1898,"b":1928},{"t":2021.6,"v":1923,"a":1908,"b":1940},{"t":2021.65,"v":1919,"a":1904,"b":1935},{"t":2021.75,"v":1911,"a":1896,"b":1928},{"t":2021.85,"v":1910,"a":1895,"b":1926},{"t":2021.9,"v":1910,"a":1894,"b":1926},{"t":2021.97,"v":1900,"a":1880,"b":1916}],
"xT": [{"t":2018.45,"a":1850,"b":1894},{"t":2018.5,"a":1853,"b":1883},{"t":2018.55,"a":1860,"b":1896},{"t":2018.6,"a":1870,"b":1910},{"t":2018.63,"a":1894,"b":1930},{"t":2018.66,"a":1870,"b":1900},{"t":2018.7,"a":1878,"b":1922},{"t":2018.72,"a":1863,"b":1893},{"t":2018.75,"a":1870,"b":1906},{"t":2018.78,"a":1855,"b":1885},{"t":2018.8,"a":1860,"b":1900},{"t":2018.83,"a":1853,"b":1877},{"t":2018.86,"a":1857,"b":1893},{"t":2018.9,"a":1865,"b":1915},{"t":2018.93,"a":1846,"b":1874},{"t":2018.95,"a":1843,"b":1867},{"t":2019.0,"a":1835,"b":1865},{"t":2019.03,"a":1852,"b":1888},{"t":2019.06,"a":1831,"b":1859},{"t":2019.1,"a":1826,"b":1850},{"t":2019.13,"a":1840,"b":1870},{"t":2019.16,"a":1833,"b":1857},{"t":2019.2,"a":1845,"b":1875},{"t":2019.23,"a":1832,"b":1868},{"t":2019.26,"a":1851,"b":1879},{"t":2019.3,"a":1843,"b":1873},{"t":2019.33,"a":1859,"b":1891},{"t":2019.36,"a":1854,"b":1882},{"t":2019.4,"a":1865,"b":1895},{"t":2019.43,"a":1880,"b":1910},{"t":2019.46,"a":1871,"b":1899},{"t":2019.5,"a":1872,"b":1908},{"t":2019.53,"a":1866,"b":1890},{"t":2019.56,"a":1885,"b":1915},{"t":2019.6,"a":1913,"b":1937},{"t":2019.63,"a":1891,"b":1919},{"t":2019.7,"a":1925,"b":1945},{"t":2019.72,"a":1877,"b":1913},{"t":2019.74,"a":1895,"b":1935},{"t":2019.76,"a":1873,"b":1903},{"t":2019.8,"a":1868,"b":1892},{"t":2019.83,"a":1880,"b":1910},{"t":2019.86,"a":1863,"b":1887},{"t":2019.9,"a":1871,"b":1899},{"t":2019.93,"a":1855,"b":1885},{"t":2019.96,"a":1865,"b":1895},{"t":2020.0,"a":1871,"b":1899},{"t":2020.05,"a":1860,"b":1890},{"t":2020.1,"a":1852,"b":1872},{"t":2020.15,"a":1856,"b":1884},{"t":2020.2,"a":1843,"b":1867},{"t":2020.25,"a":1838,"b":1858},{"t":2020.3,"a":1846,"b":1870},{"t":2020.33,"a":1855,"b":1885},{"t":2020.36,"a":1865,"b":1895},{"t":2020.4,"a":1876,"b":1904},{"t":2020.43,"a":1884,"b":1916},{"t":2020.46,"a":1896,"b":1924},{"t":2020.5,"a":1880,"b":1910},{"t":2020.53,"a":1908,"b":1932},{"t":2020.56,"a":1891,"b":1919},{"t":2020.6,"a":1900,"b":1930},{"t":2020.63,"a":1883,"b":1907},{"t":2020.66,"a":1895,"b":1945},{"t":2020.7,"a":1880,"b":1920},{"t":2020.73,"a":1905,"b":1963},{"t":2020.76,"a":1876,"b":1904},{"t":2020.8,"a":1890,"b":1920},{"t":2020.83,"a":1881,"b":1909},{"t":2020.86,"a":1870,"b":1900},{"t":2020.9,"a":1884,"b":1916},{"t":2020.93,"a":1865,"b":1895},{"t":2020.96,"a":1876,"b":1904},{"t":2021.0,"a":1863,"b":1887},{"t":2021.03,"a":1865,"b":1895},{"t":2021.06,"a":1856,"b":1884},{"t":2021.1,"a":1870,"b":1900},{"t":2021.13,"a":1863,"b":1887},{"t":2021.16,"a":1875,"b":1905},{"t":2021.2,"a":1866,"b":1894},{"t":2021.23,"a":1879,"b":1911},{"t":2021.26,"a":1871,"b":1899},{"t":2021.3,"a":1885,"b":1915},{"t":2021.33,"a":1876,"b":1904},{"t":2021.36,"a":1890,"b":1920},{"t":2021.4,"a":1881,"b":1909},{"t":2021.43,"a":1900,"b":1930},{"t":2021.46,"a":1893,"b":1917},{"t":2021.5,"a":1904,"b":1936},{"t":2021.53,"a":1896,"b":1924},{"t":2021.56,"a":1912,"b":1948},{"t":2021.6,"a":1911,"b":1964},{"t":2021.63,"a":1905,"b":1935},{"t":2021.66,"a":1902,"b":1922}],
"hL": [{"t":2009.3,"v":1814,"a":1810,"b":1818},{"t":2009.4,"v":1820,"a":1816,"b":1824},{"t":2009.5,"v":1821,"a":1817,"b":1825},{"t":2009.6,"v":1829,"a":1825,"b":1833},{"t":2009.65,"v":1832,"a":1828,"b":1836},{"t":2009.75,"v":1825,"a":1821,"b":1829},{"t":2009.85,"v":1821,"a":1817,"b":1825},{"t":2009.95,"v":1816,"a":1812,"b":1820},{"t":2010.05,"v":1814,"a":1810,"b":1818},{"t":2010.15,"v":1816,"a":1812,"b":1820},{"t":2010.25,"v":1820,"a":1816,"b":1824},{"t":2010.35,"v":1825,"a":1821,"b":1829},{"t":2010.4,"v":1829,"a":1825,"b":1833},{"t":2010.5,"v":1823,"a":1819,"b":1827},{"t":2010.6,"v":1836,"a":1832,"b":1840},{"t":2010.65,"v":1838,"a":1834,"b":1842},{"t":2010.75,"v":1834,"a":1830,"b":1838},{"t":2010.85,"v":1833,"a":1829,"b":1837},{"t":2010.95,"v":1825,"a":1821,"b":1829},{"t":2011.05,"v":1816,"a":1812,"b":1820},{"t":2011.15,"v":1820,"a":1816,"b":1824},{"t":2011.25,"v":1819,"a":1815,"b":1823},{"t":2011.35,"v":1818,"a":1814,"b":1822},{"t":2011.45,"v":1823,"a":1819,"b":1827},{"t":2011.55,"v":1821,"a":1817,"b":1825},{"t":2011.65,"v":1838,"a":1834,"b":1842},{"t":2011.7,"v":1839,"a":1835,"b":1843},{"t":2011.8,"v":1833,"a":1829,"b":1837},{"t":2011.9,"v":1828,"a":1824,"b":1832},{"t":2012.0,"v":1827,"a":1823,"b":1831},{"t":2012.1,"v":1829,"a":1825,"b":1833},{"t":2012.2,"v":1829,"a":1825,"b":1833},{"t":2012.3,"v":1831,"a":1827,"b":1835},{"t":2012.35,"v":1837,"a":1833,"b":1841},{"t":2012.45,"v":1833,"a":1829,"b":1837},{"t":2012.55,"v":1843,"a":1839,"b":1847},{"t":2012.65,"v":1849,"a":1845,"b":1853},{"t":2012.75,"v":1848,"a":1844,"b":1852},{"t":2012.85,"v":1844,"a":1840,"b":1848},{"t":2012.95,"v":1843,"a":1839,"b":1847},{"t":2013.05,"v":1837,"a":1833,"b":1841},{"t":2013.15,"v":1833,"a":1829,"b":1837},{"t":2013.25,"v":1834,"a":1830,"b":1838},{"t":2013.35,"v":1837,"a":1833,"b":1841},{"t":2013.45,"v":1834,"a":1830,"b":1838},{"t":2013.55,"v":1851,"a":1847,"b":1855},{"t":2013.62,"v":1863,"a":1859,"b":1867},{"t":2013.7,"v":1855,"a":1851,"b":1859},{"t":2013.8,"v":1851,"a":1847,"b":1855},{"t":2013.9,"v":1843,"a":1839,"b":1847},{"t":2014.0,"v":1837,"a":1833,"b":1841},{"t":2014.1,"v":1837,"a":1833,"b":1841},{"t":2014.2,"v":1835,"a":1831,"b":1839},{"t":2014.3,"v":1844,"a":1840,"b":1848},{"t":2014.4,"v":1846,"a":1842,"b":1850},{"t":2014.5,"v":1846,"a":1842,"b":1850},{"t":2014.6,"v":1858,"a":1854,"b":1862},{"t":2014.65,"v":1862,"a":1858,"b":1866},{"t":2014.75,"v":1857,"a":1853,"b":1861},{"t":2014.85,"v":1853,"a":1849,"b":1857},{"t":2014.95,"v":1847,"a":1843,"b":1851},{"t":2015.05,"v":1845,"a":1841,"b":1849},{"t":2015.15,"v":1850,"a":1846,"b":1854},{"t":2015.25,"v":1853,"a":1849,"b":1857},{"t":2015.35,"v":1857,"a":1853,"b":1861},{"t":2015.45,"v":1860,"a":1856,"b":1864},{"t":2015.55,"v":1872,"a":1868,"b":1876},{"t":2015.6,"v":1879,"a":1875,"b":1883},{"t":2015.7,"v":1871,"a":1867,"b":1875},{"t":2015.8,"v":1865,"a":1861,"b":1869},{"t":2015.9,"v":1863,"a":1859,"b":1867},{"t":2016.0,"v":1861,"a":1857,"b":1865},{"t":2016.1,"v":1860,"a":1856,"b":1864},{"t":2016.2,"v":1859,"a":1855,"b":1863},{"t":2016.3,"v":1860,"a":1856,"b":1864},{"t":2016.4,"v":1864,"a":1860,"b":1868},{"t":2016.5,"v":1874,"a":1870,"b":1878},{"t":2016.6,"v":1890,"a":1886,"b":1894},{"t":2016.65,"v":1892,"a":1888,"b":1896},{"t":2016.75,"v":1884,"a":1880,"b":1888},{"t":2016.85,"v":1876,"a":1872,"b":1880},{"t":2016.95,"v":1871,"a":1867,"b":1875},{"t":2017.05,"v":1866,"a":1862,"b":1870},{"t":2017.15,"v":1865,"a":1861,"b":1869},{"t":2017.25,"v":1866,"a":1862,"b":1870},{"t":2017.35,"v":1870,"a":1866,"b":1874},{"t":2017.45,"v":1874,"a":1870,"b":1878},{"t":2017.55,"v":1888,"a":1884,"b":1892},{"t":2017.65,"v":1895,"a":1890,"b":1900},{"t":2017.75,"v":1893,"a":1888,"b":1898},{"t":2017.85,"v":1888,"a":1883,"b":1893},{"t":2017.95,"v":1878,"a":1874,"b":1882},{"t":2018.05,"v":1870,"a":1866,"b":1874},{"t":2018.15,"v":1868,"a":1864,"b":1872},{"t":2018.25,"v":1871,"a":1867,"b":1875},{"t":2018.35,"v":1875,"a":1871,"b":1879},{"t":2018.45,"v":1876,"a":1872,"b":1880},{"t":2018.55,"v":1888,"a":1884,"b":1892},{"t":2018.65,"v":1902,"a":1898,"b":1906},{"t":2018.75,"v":1896,"a":1892,"b":1900},{"t":2018.85,"v":1886,"a":1882,"b":1890},{"t":2018.95,"v":1876,"a":1871,"b":1881},{"t":2019.05,"v":1871,"a":1865,"b":1877},{"t":2019.15,"v":1874,"a":1869,"b":1879},{"t":2019.25,"v":1882,"a":1878,"b":1886},{"t":2019.35,"v":1892,"a":1888,"b":1896},{"t":2019.45,"v":1902,"a":1897,"b":1907},{"t":2019.55,"v":1917,"a":1912,"b":1922},{"t":2019.62,"v":1925,"a":1920,"b":1930},{"t":2019.7,"v":1917,"a":1912,"b":1922},{"t":2019.8,"v":1908,"a":1903,"b":1913},{"t":2019.9,"v":1900,"a":1895,"b":1905},{"t":2020.0,"v":1884,"a":1879,"b":1889},{"t":2020.1,"v":1878,"a":1873,"b":1883},{"t":2020.2,"v":1886,"a":1881,"b":1891},{"t":2020.3,"v":1898,"a":1893,"b":1903},{"t":2020.4,"v":1906,"a":1900,"b":1912},{"t":2020.5,"v":1904,"a":1897,"b":1911},{"t":2020.58,"v":1919,"a":1914,"b":1924},{"t":2020.63,"v":1941,"a":1936,"b":1946},{"t":2020.7,"v":1927,"a":1922,"b":1932},{"t":2020.8,"v":1917,"a":1912,"b":1922},{"t":2020.9,"v":1909,"a":1905,"b":1913},{"t":2021.0,"v":1898,"a":1894,"b":1902},{"t":2021.1,"v":1892,"a":1888,"b":1896},{"t":2021.2,"v":1906,"a":1902,"b":1910},{"t":2021.3,"v":1917,"a":1912,"b":1922},{"t":2021.4,"v":1931,"a":1925,"b":1937},{"t":2021.5,"v":1935,"a":1928,"b":1942},{"t":2021.6,"v":1949,"a":1943,"b":1955},{"t":2021.65,"v":1952,"a":1946,"b":1958},{"t":2021.75,"v":1935,"a":1930,"b":1940},{"t":2021.85,"v":1927,"a":1922,"b":1932},{"t":2021.97,"v":1926,"a":1921,"b":1931}],
"hT": [{"t":2016.0,"a":1839,"b":1855},{"t":2016.02,"a":1835,"b":1851},{"t":2016.05,"a":1833,"b":1845},{"t":2016.08,"a":1835,"b":1855},{"t":2016.1,"a":1831,"b":1847},{"t":2016.13,"a":1831,"b":1839},{"t":2016.15,"a":1845,"b":1857},{"t":2016.2,"a":1835,"b":1851},{"t":2016.25,"a":1839,"b":1855},{"t":2016.3,"a":1845,"b":1857},{"t":2016.33,"a":1837,"b":1845},{"t":2016.38,"a":1846,"b":1862},{"t":2016.42,"a":1852,"b":1872},{"t":2016.48,"a":1841,"b":1853},{"t":2016.52,"a":1854,"b":1866},{"t":2016.55,"a":1864,"b":1872},{"t":2016.6,"a":1886,"b":1902},{"t":2016.62,"a":1900,"b":1912},{"t":2016.65,"a":1894,"b":1906},{"t":2016.68,"a":1882,"b":1894},{"t":2016.72,"a":1874,"b":1882},{"t":2016.85,"a":1854,"b":1862},{"t":2016.9,"a":1848,"b":1860},{"t":2016.95,"a":1855,"b":1865},{"t":2017.0,"a":1851,"b":1861},{"t":2017.05,"a":1852,"b":1864},{"t":2017.1,"a":1847,"b":1857},{"t":2017.12,"a":1834,"b":1840},{"t":2017.15,"a":1846,"b":1862},{"t":2017.2,"a":1852,"b":1864},{"t":2017.25,"a":1843,"b":1851},{"t":2017.3,"a":1858,"b":1866},{"t":2017.35,"a":1863,"b":1873},{"t":2017.38,"a":1840,"b":1846},{"t":2017.4,"a":1884,"b":1900},{"t":2017.42,"a":1901,"b":1909},{"t":2017.45,"a":1890,"b":1898},{"t":2017.5,"a":1840,"b":1864},{"t":2017.55,"a":1898,"b":1908},{"t":2017.6,"a":1889,"b":1899},{"t":2017.62,"a":1874,"b":1886},{"t":2017.7,"a":1888,"b":1908},{"t":2017.75,"a":1873,"b":1883},{"t":2017.8,"a":1879,"b":1889},{"t":2017.85,"a":1857,"b":1863},{"t":2017.95,"a":1862,"b":1870},{"t":2018.0,"a":1861,"b":1867},{"t":2018.05,"a":1849,"b":1855},{"t":2018.1,"a":1849,"b":1855},{"t":2018.15,"a":1859,"b":1865},{"t":2018.2,"a":1855,"b":1861},{"t":2018.25,"a":1853,"b":1859},{"t":2018.5,"a":1855,"b":1861},{"t":2018.53,"a":1919,"b":1927},{"t":2018.62,"a":1944,"b":1950},{"t":2018.65,"a":1887,"b":1893},{"t":2018.68,"a":1911,"b":1919},{"t":2018.69,"a":1870,"b":1876},{"t":2018.7,"a":1904,"b":1910},{"t":2018.75,"a":1885,"b":1895},{"t":2018.8,"a":1870,"b":1878},{"t":2018.85,"a":1890,"b":1898},{"t":2018.9,"a":1885,"b":1891},{"t":2019.0,"a":1888,"b":1896},{"t":2019.05,"a":1864,"b":1872},{"t":2019.1,"a":1870,"b":1878},{"t":2019.15,"a":1862,"b":1870},{"t":2019.3,"a":1867,"b":1877},{"t":2019.35,"a":1884,"b":1896},{"t":2019.4,"a":1894,"b":1906},{"t":2019.45,"a":1888,"b":1900},{"t":2019.52,"a":1948,"b":1956},{"t":2019.6,"a":1903,"b":1909},{"t":2019.65,"a":1899,"b":1907},{"t":2019.72,"a":1886,"b":1894},{"t":2019.78,"a":1884,"b":1892},{"t":2019.82,"a":1887,"b":1897},{"t":2019.88,"a":1874,"b":1882},{"t":2019.92,"a":1866,"b":1874},{"t":2020.15,"a":1870,"b":1878},{"t":2020.2,"a":1865,"b":1875},{"t":2020.25,"a":1873,"b":1883},{"t":2020.3,"a":1879,"b":1889},{"t":2020.35,"a":1901,"b":1909},{"t":2020.55,"a":1919,"b":1931},{"t":2020.6,"a":1931,"b":1943},{"t":2020.65,"a":1941,"b":1957},{"t":2020.72,"a":1909,"b":1917},{"t":2020.78,"a":1913,"b":1921},{"t":2020.85,"a":1920,"b":1926},{"t":2020.9,"a":1907,"b":1919},{"t":2020.95,"a":1900,"b":1910}]
},
"spacing": 92,
"vconcat": [
 {"hconcat": [
  {"width": 1800, "height": 456, "layer": [
   {"data": {"name": "sT"}, "mark": {"type": "errorbar", "color": "#8f8f8f", "thickness": 2, "opacity": 0.85, "ticks": {"size": 10}},
    "encoding": {"x": {"field": "t", "type": "quantitative", "scale": {"domain": [2009, 2021.97], "nice": false, "zero": false}, "axis": null}, "y": {"field": "a", "type": "quantitative", "scale": {"domain": [1767, 1950], "nice": false, "zero": false}, "axis": null}, "y2": {"field": "b"}}},
   {"data": {"name": "sL"}, "mark": {"type": "area", "color": "#ee9eaf", "opacity": 0.6},
    "encoding": {"x": {"field": "t", "type": "quantitative", "axis": {"orient": "top", "values": [2009,2010,2011,2012,2013,2014,2015,2016,2017,2018,2019,2020,2021], "labels": false, "title": null, "grid": false, "tickSize": -16}}, "y": {"field": "a", "type": "quantitative", "axis": {"orient": "right", "values": [1800,1850,1900,1950], "labels": false, "title": null, "grid": false, "tickSize": -16}}, "y2": {"field": "b"}}},
   {"data": {"name": "sL"}, "mark": {"type": "line", "color": "#d0103a", "strokeWidth": 4},
    "encoding": {"x": {"field": "t", "type": "quantitative", "axis": {"orient": "bottom", "values": [2009,2010,2011,2012,2013,2014,2015,2016,2017,2018,2019,2020,2021], "format": "d", "title": "Time (year)", "grid": true, "gridColor": "#d4d4d4", "gridWidth": 2, "tickSize": -16, "labelPadding": 36, "titlePadding": 16}}, "y": {"field": "v", "type": "quantitative", "axis": {"orient": "left", "values": [1800,1850,1900,1950], "format": "d", "title": "XCH₄(ppb)", "grid": false, "tickSize": -16, "labelPadding": 34, "titlePadding": 30}}}},
   {"data": {"values": [{"n": "Saga"}]}, "mark": {"type": "text", "align": "left", "baseline": "middle", "font": "Liberation Serif", "fontSize": 43, "color": "#000"},
    "encoding": {"x": {"datum": 2009.44, "type": "quantitative", "axis": null}, "y": {"datum": 1926, "type": "quantitative", "axis": null}, "text": {"field": "n"}}}
  ]},
  {"width": 1800, "height": 456, "layer": [
   {"data": {"name": "tT"}, "mark": {"type": "errorbar", "color": "#8f8f8f", "thickness": 2, "opacity": 0.85, "ticks": {"size": 10}},
    "encoding": {"x": {"field": "t", "type": "quantitative", "scale": {"domain": [2009, 2021.97], "nice": false, "zero": false}, "axis": null}, "y": {"field": "a", "type": "quantitative", "scale": {"domain": [1750, 1970], "nice": false, "zero": false}, "axis": null}, "y2": {"field": "b"}}},
   {"data": {"name": "tL"}, "mark": {"type": "area", "color": "#ee9eaf", "opacity": 0.6},
    "encoding": {"x": {"field": "t", "type": "quantitative", "axis": {"orient": "top", "values": [2009,2010,2011,2012,2013,2014,2015,2016,2017,2018,2019,2020,2021], "labels": false, "title": null, "grid": false, "tickSize": -16}}, "y": {"field": "a", "type": "quantitative", "axis": {"orient": "right", "values": [1750,1800,1850,1900,1950], "labels": false, "title": null, "grid": false, "tickSize": -16}}, "y2": {"field": "b"}}},
   {"data": {"name": "tL"}, "mark": {"type": "line", "color": "#d0103a", "strokeWidth": 4},
    "encoding": {"x": {"field": "t", "type": "quantitative", "axis": {"orient": "bottom", "values": [2009,2010,2011,2012,2013,2014,2015,2016,2017,2018,2019,2020,2021], "format": "d", "title": "Time (year)", "grid": true, "gridColor": "#d4d4d4", "gridWidth": 2, "tickSize": -16, "labelPadding": 36, "titlePadding": 16}}, "y": {"field": "v", "type": "quantitative", "axis": {"orient": "left", "values": [1750,1800,1850,1900,1950], "format": "d", "title": "XCH₄(ppb)", "grid": false, "tickSize": -16, "labelPadding": 34, "titlePadding": 30}}}},
   {"data": {"values": [{"n": "Tsukuba"}]}, "mark": {"type": "text", "align": "left", "baseline": "middle", "font": "Liberation Serif", "fontSize": 43, "color": "#000"},
    "encoding": {"x": {"datum": 2009.69, "type": "quantitative", "axis": null}, "y": {"datum": 1933, "type": "quantitative", "axis": null}, "text": {"field": "n"}}}
  ]}
 ], "spacing": 60},
 {"vconcat": [
  {"hconcat": [
   {"width": 1800, "height": 456, "layer": [
    {"data": {"name": "rT"}, "mark": {"type": "errorbar", "color": "#8f8f8f", "thickness": 2, "opacity": 0.85, "ticks": {"size": 10}},
     "encoding": {"x": {"field": "t", "type": "quantitative", "scale": {"domain": [2009, 2021.97], "nice": false, "zero": false}, "axis": null}, "y": {"field": "a", "type": "quantitative", "scale": {"domain": [1750, 1970], "nice": false, "zero": false}, "axis": null}, "y2": {"field": "b"}}},
    {"data": {"name": "rL"}, "mark": {"type": "area", "color": "#ee9eaf", "opacity": 0.6},
     "encoding": {"x": {"field": "t", "type": "quantitative", "axis": {"orient": "top", "values": [2009,2010,2011,2012,2013,2014,2015,2016,2017,2018,2019,2020,2021], "labels": false, "title": null, "grid": false, "tickSize": -16}}, "y": {"field": "a", "type": "quantitative", "axis": {"orient": "right", "values": [1750,1800,1850,1900,1950], "labels": false, "title": null, "grid": false, "tickSize": -16}}, "y2": {"field": "b"}}},
    {"data": {"name": "rL"}, "mark": {"type": "line", "color": "#d0103a", "strokeWidth": 4},
     "encoding": {"x": {"field": "t", "type": "quantitative", "axis": {"orient": "bottom", "values": [2009,2010,2011,2012,2013,2014,2015,2016,2017,2018,2019,2020,2021], "format": "d", "title": "Time (year)", "grid": true, "gridColor": "#d4d4d4", "gridWidth": 2, "tickSize": -16, "labelPadding": 36, "titlePadding": 16}}, "y": {"field": "v", "type": "quantitative", "axis": {"orient": "left", "values": [1750,1800,1850,1900,1950], "format": "d", "title": "XCH₄(ppb)", "grid": false, "tickSize": -16, "labelPadding": 34, "titlePadding": 30}}}},
    {"data": {"values": [{"n": "Rikubetsu"}]}, "mark": {"type": "text", "align": "left", "baseline": "middle", "font": "Liberation Serif", "fontSize": 43, "color": "#000"},
     "encoding": {"x": {"datum": 2009.58, "type": "quantitative", "axis": null}, "y": {"datum": 1923, "type": "quantitative", "axis": null}, "text": {"field": "n"}}}
   ]},
   {"width": 1800, "height": 456, "layer": [
    {"data": {"name": "xT"}, "mark": {"type": "errorbar", "color": "#8f8f8f", "thickness": 2, "opacity": 0.85, "ticks": {"size": 10}},
     "encoding": {"x": {"field": "t", "type": "quantitative", "scale": {"domain": [2009, 2021.97], "nice": false, "zero": false}, "axis": null}, "y": {"field": "a", "type": "quantitative", "scale": {"domain": [1750, 1970], "nice": false, "zero": false}, "axis": null}, "y2": {"field": "b"}}},
    {"data": {"name": "xL"}, "mark": {"type": "area", "color": "#ee9eaf", "opacity": 0.6},
     "encoding": {"x": {"field": "t", "type": "quantitative", "axis": {"orient": "top", "values": [2009,2010,2011,2012,2013,2014,2015,2016,2017,2018,2019,2020,2021], "labels": false, "title": null, "grid": false, "tickSize": -16}}, "y": {"field": "a", "type": "quantitative", "axis": {"orient": "right", "values": [1750,1800,1850,1900,1950], "labels": false, "title": null, "grid": false, "tickSize": -16}}, "y2": {"field": "b"}}},
    {"data": {"name": "xL"}, "mark": {"type": "line", "color": "#d0103a", "strokeWidth": 4},
     "encoding": {"x": {"field": "t", "type": "quantitative", "axis": {"orient": "bottom", "values": [2009,2010,2011,2012,2013,2014,2015,2016,2017,2018,2019,2020,2021], "format": "d", "title": "Time (year)", "grid": true, "gridColor": "#d4d4d4", "gridWidth": 2, "tickSize": -16, "labelPadding": 36, "titlePadding": 16}}, "y": {"field": "v", "type": "quantitative", "axis": {"orient": "left", "values": [1750,1800,1850,1900,1950], "format": "d", "title": "XCH₄(ppb)", "grid": false, "tickSize": -16, "labelPadding": 34, "titlePadding": 30}}}},
    {"data": {"values": [{"n": "Xianghe"}]}, "mark": {"type": "text", "align": "left", "baseline": "middle", "font": "Liberation Serif", "fontSize": 43, "color": "#000"},
     "encoding": {"x": {"datum": 2009.8, "type": "quantitative", "axis": null}, "y": {"datum": 1932, "type": "quantitative", "axis": null}, "text": {"field": "n"}}}
   ]}
  ], "spacing": 60},
  {"width": 1800, "height": 456, "layer": [
   {"data": {"name": "hT"}, "mark": {"type": "errorbar", "thickness": 2, "opacity": 0.85, "ticks": {"size": 10}},
    "encoding": {"x": {"field": "t", "type": "quantitative", "scale": {"domain": [2009, 2021.97], "nice": false, "zero": false}, "axis": null}, "y": {"field": "a", "type": "quantitative", "scale": {"domain": [1750, 1970], "nice": false, "zero": false}, "axis": null}, "y2": {"field": "b"},
     "color": {"datum": "TCCON-XCH₄", "type": "nominal", "scale": {"domain": ["TCCON-XCH₄"], "range": ["#8f8f8f"]},
      "legend": {"orient": "none", "legendX": 1942, "legendY": 1478, "direction": "horizontal", "title": null, "labelFont": "Liberation Serif", "labelFontSize": 60, "labelColor": "#000", "labelLimit": 2000, "symbolSize": 17689, "symbolType": "M0,-0.6L0,0.6M-0.08,-0.6L0.08,-0.6M-0.08,0.6L0.08,0.6", "symbolStrokeWidth": 2.5, "symbolFillColor": "transparent", "symbolStrokeColor": "#8f8f8f", "symbolOpacity": 1, "labelOffset": 11, "padding": 0}}}},
   {"data": {"name": "hL"}, "mark": {"type": "area", "color": "#ee9eaf", "opacity": 0.6},
    "encoding": {"x": {"field": "t", "type": "quantitative", "axis": {"orient": "top", "values": [2009,2010,2011,2012,2013,2014,2015,2016,2017,2018,2019,2020,2021], "labels": false, "title": null, "grid": false, "tickSize": -16}}, "y": {"field": "a", "type": "quantitative", "axis": {"orient": "right", "values": [1750,1800,1850,1900,1950], "labels": false, "title": null, "grid": false, "tickSize": -16}}, "y2": {"field": "b"}}},
   {"data": {"name": "hL"}, "mark": {"type": "line", "color": "#d0103a", "strokeWidth": 4},
    "encoding": {"x": {"field": "t", "type": "quantitative", "axis": {"orient": "bottom", "values": [2009,2010,2011,2012,2013,2014,2015,2016,2017,2018,2019,2020,2021], "format": "d", "title": "Time (year)", "grid": true, "gridColor": "#d4d4d4", "gridWidth": 2, "tickSize": -16, "labelPadding": 36, "titlePadding": 16}}, "y": {"field": "v", "type": "quantitative", "axis": {"orient": "left", "values": [1750,1800,1850,1900,1950], "format": "d", "title": "XCH₄(ppb)", "grid": false, "tickSize": -16, "labelPadding": 34, "titlePadding": 30}},
     "strokeDash": {"datum": "Mapping-XCH₄", "type": "nominal", "scale": {"domain": ["Mapping-XCH₄"], "range": [[1, 0]]},
      "legend": {"orient": "none", "legendX": 2486, "legendY": 1478, "direction": "horizontal", "title": null, "labelFont": "Liberation Serif", "labelFontSize": 60, "labelColor": "#000", "labelLimit": 2000, "symbolSize": 17689, "symbolType": "stroke", "symbolStrokeColor": "#d0103a", "symbolStrokeWidth": 5, "symbolFillColor": "transparent", "symbolOpacity": 1, "labelOffset": 11, "padding": 0}}}},
   {"data": {"values": [{"n": "Hefei"}]}, "mark": {"type": "text", "align": "left", "baseline": "middle", "font": "Liberation Serif", "fontSize": 43, "color": "#000"},
    "encoding": {"x": {"datum": 2009.67, "type": "quantitative", "axis": null}, "y": {"datum": 1935, "type": "quantitative", "axis": null}, "text": {"field": "n"}}}
  ]}
 ], "spacing": 62}
]
}
